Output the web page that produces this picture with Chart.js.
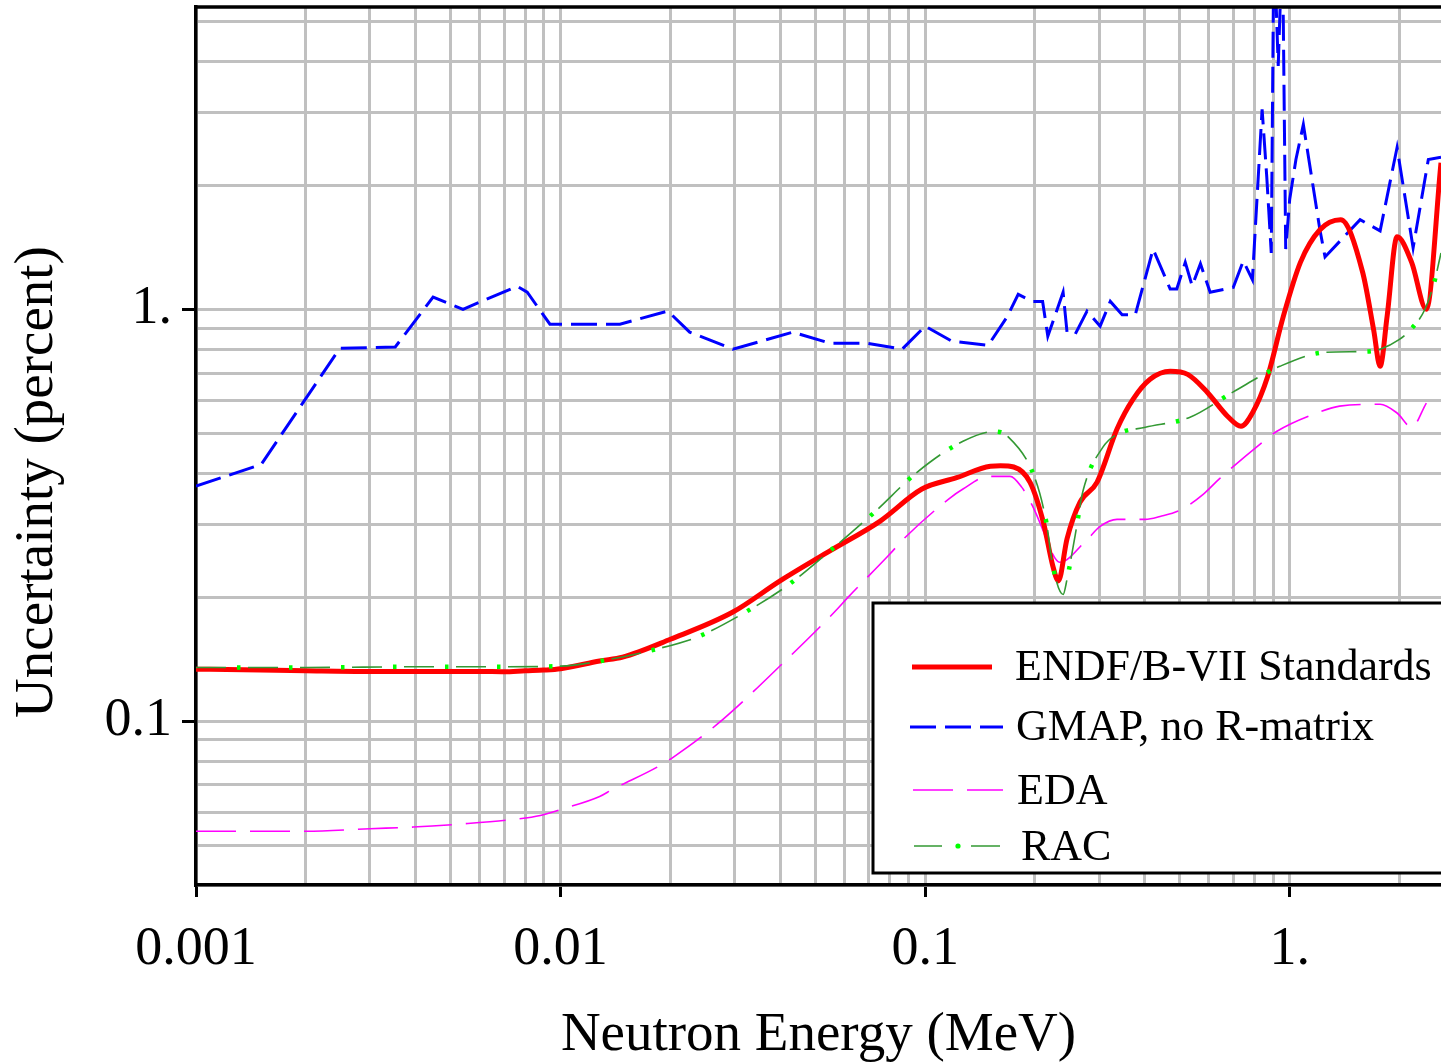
<!DOCTYPE html>
<html>
<head>
<meta charset="utf-8">
<title>Uncertainty vs neutron energy</title>
<script src="https://cdn.jsdelivr.net/npm/chart.js@4.4.1/dist/chart.umd.min.js"></script>
<style>
    html, body { margin: 0; padding: 0; background: #fff; overflow: hidden; }
    #wrap { position: relative; width: 1441px; height: 1063px; }
</style>
</head>
<body>
<div id="wrap"><canvas id="chartUnc"></canvas></div>
<script>
const serif = "'Liberation Serif', 'Times New Roman', serif";

// ENDF/B-VII Standards
const endfE = [0.001, 0.0015, 0.002, 0.003, 0.004, 0.005, 0.006, 0.007, 0.008, 0.009, 0.01, 0.0128, 0.0148, 0.02, 0.0297, 0.04, 0.0548, 0.0753, 0.098, 0.122, 0.151, 0.161, 0.175, 0.194, 0.211, 0.224, 0.232, 0.245, 0.266, 0.296, 0.336, 0.372, 0.414, 0.47, 0.525, 0.594, 0.675, 0.735, 0.79, 0.87, 0.96, 1.07, 1.21, 1.38, 1.585, 1.7, 1.77, 1.85, 1.97, 2.16, 2.37, 2.6];
const endfU = [0.1337, 0.133, 0.1325, 0.132, 0.132, 0.132, 0.132, 0.1318, 0.1325, 0.133, 0.134, 0.14, 0.143, 0.158, 0.184, 0.219, 0.259, 0.306, 0.366, 0.39, 0.416, 0.417, 0.414, 0.38, 0.304, 0.238, 0.219, 0.277, 0.34, 0.38, 0.512, 0.605, 0.676, 0.707, 0.695, 0.629, 0.55, 0.52, 0.56, 0.687, 0.96, 1.30, 1.56, 1.65, 1.23, 0.889, 0.727, 0.962, 1.50, 1.30, 1.0, 2.27];

// GMAP, no R-matrix
const gmapE = [0.001, 0.00151, 0.00248, 0.00352, 0.00447, 0.0054, 0.0076, 0.0081, 0.00935, 0.01455, 0.0197, 0.0226, 0.0297, 0.0434, 0.0548, 0.0693, 0.0865, 0.1, 0.1186, 0.149, 0.168, 0.18, 0.197, 0.21, 0.217, 0.239, 0.245, 0.258, 0.278, 0.302, 0.322, 0.347, 0.377, 0.422, 0.47, 0.49, 0.517, 0.54, 0.569, 0.605, 0.70, 0.746, 0.79, 0.84, 0.865, 0.89, 0.905, 0.93, 0.955, 0.975, 1.0, 1.04, 1.09, 1.21, 1.25, 1.56, 1.77, 1.97, 2.18, 2.4, 2.6];
const gmapU = [0.372, 0.42, 0.804, 0.81, 1.07, 1.0, 1.137, 1.1, 0.92, 0.92, 0.99, 0.88, 0.80, 0.88, 0.827, 0.827, 0.80, 0.91, 0.836, 0.818, 0.96, 1.087, 1.045, 1.045, 0.86, 1.1, 0.88, 0.87, 0.99, 0.91, 1.045, 0.97, 0.97, 1.4, 1.12, 1.12, 1.30, 1.14, 1.29, 1.1, 1.13, 1.31, 1.18, 3.06, 2.1, 1.37, 8, 3.9, 8, 1.4, 1.85, 2.31, 2.81, 1.56, 1.34, 1.65, 1.55, 2.47, 1.41, 2.31, 2.34];

// EDA
const edaE = [0.001, 0.002, 0.003, 0.00394, 0.0054, 0.0074, 0.0088, 0.01, 0.0128, 0.0139, 0.0184, 0.0204, 0.0269, 0.0427, 0.0564, 0.0615, 0.0792, 0.0884, 0.116, 0.127, 0.149, 0.171, 0.184, 0.197, 0.211, 0.22, 0.234, 0.275, 0.302, 0.336, 0.402, 0.441, 0.5, 0.58, 0.64, 0.84, 0.92, 1.22, 1.37, 1.77, 1.97, 2.16, 2.37];
const edaU = [0.054, 0.054, 0.0548, 0.0553, 0.0563, 0.0577, 0.059, 0.061, 0.0656, 0.0683, 0.0773, 0.0818, 0.0983, 0.144, 0.184, 0.2, 0.252, 0.28, 0.346, 0.366, 0.393, 0.393, 0.37, 0.333, 0.289, 0.262, 0.243, 0.273, 0.297, 0.309, 0.309, 0.314, 0.325, 0.356, 0.387, 0.475, 0.505, 0.565, 0.582, 0.588, 0.56, 0.517, 0.592];

// RAC
const racE = [0.001, 0.002, 0.004, 0.007, 0.01, 0.0135, 0.018, 0.0237, 0.0315, 0.0418, 0.0548, 0.073, 0.095, 0.127, 0.155, 0.169, 0.2, 0.215, 0.224, 0.239, 0.245, 0.258, 0.271, 0.307, 0.336, 0.402, 0.533, 0.70, 0.94, 1.25, 1.63, 1.77, 2.0, 2.15, 2.35, 2.49, 2.6];
const racU = [0.135, 0.135, 0.1355, 0.1355, 0.136, 0.141, 0.149, 0.16, 0.182, 0.213, 0.259, 0.323, 0.402, 0.478, 0.505, 0.49, 0.389, 0.304, 0.238, 0.203, 0.221, 0.283, 0.362, 0.462, 0.497, 0.517, 0.547, 0.63, 0.727, 0.786, 0.79, 0.8, 0.845, 0.894, 1.0, 1.16, 1.37];

const seriesNames = ["ENDF/B-VII Standards", "GMAP, no R-matrix", "EDA", "RAC"];

const xTickVals = [0.001, 0.01, 0.1, 1];
const xTickLabels = ["0.001", "0.01", "0.1", "1."];
const yTickVals = [0.1, 1];
const yTickLabels = ["0.1", "1."];

const estilos = {
    endf: { color: "#ff0000", width: 5, dash: [] },
    gmap: { color: "#0000ff", width: 3, dash: [26, 9] },
    eda:  { color: "#ff00ff", width: 1.6, dash: [40, 14] },
    rac:  { color: "#339933", width: 1.6, dash: [30, 22] },
    racPonto: { color: "#00ff00", width: 4.5, dash: [3.5, 48.5], offset: 11 }
};

function pares(xs, ys) {
    return xs.map((x, i) => ({ x, y: ys[i] }));
}

// grade logaritmica 1..9 x 10^n dentro do intervalo
function logTicks(min, max) {
    const out = [];
    for (let e = Math.floor(Math.log10(min)); e <= Math.ceil(Math.log10(max)); e++) {
        for (let m = 1; m < 10; m++) {
            const v = +(m * Math.pow(10, e)).toPrecision(6);
            if (v >= min * 0.9999 && v <= max) out.push({ value: v });
        }
    }
    return out;
}

function rotulo(vals, labels) {
    return v => {
        const i = vals.findIndex(t => Math.abs(t - v) < t * 1e-6);
        return i >= 0 ? labels[i] : "";
    };
}

function corTick(vals) {
    return c => (c.tick && vals.some(t => Math.abs(t - c.tick.value) < t * 1e-6)) ? "#000" : "rgba(0,0,0,0)";
}

const legendaBox = {
    id: "legendaBox",
    afterDatasetsDraw(chart) {
        const { ctx, chartArea } = chart;
        ctx.save();

        // moldura superior
        ctx.strokeStyle = "#000";
        ctx.lineWidth = 3.5;
        ctx.beginPath();
        ctx.moveTo(chartArea.left - 2, chartArea.top);
        ctx.lineTo(chartArea.right, chartArea.top);
        ctx.stroke();

        // caixa
        ctx.fillStyle = "#fff";
        ctx.fillRect(873, 603, 620, 270);
        ctx.lineWidth = 3;
        ctx.strokeRect(873, 603, 620, 270);

        const itens = [
            { st: estilos.endf, x0: 912, x1: 992, y: 667, base: 680, tx: 1015 },
            { st: estilos.gmap, x0: 910, x1: 1003, y: 727, base: 740, tx: 1016 },
            { st: estilos.eda, x0: 913, x1: 1003, y: 790, base: 804, tx: 1017 },
            { st: estilos.rac, x0: 914, x1: 1000, y: 846, base: 860, tx: 1021 }
        ];

        itens.forEach((it, i) => {
            ctx.strokeStyle = it.st.color;
            ctx.lineWidth = it.st.width;
            if (i === 3) {
                ctx.setLineDash([]);
                ctx.beginPath();
                ctx.moveTo(914, it.y); ctx.lineTo(942, it.y);
                ctx.moveTo(971, it.y); ctx.lineTo(1000, it.y);
                ctx.stroke();
                ctx.fillStyle = estilos.racPonto.color;
                ctx.beginPath();
                ctx.arc(958, it.y, 2.6, 0, Math.PI * 2);
                ctx.fill();
            } else {
                ctx.setLineDash(it.st.dash);
                ctx.beginPath();
                ctx.moveTo(it.x0, it.y);
                ctx.lineTo(it.x1, it.y);
                ctx.stroke();
            }
            ctx.setLineDash([]);
            ctx.fillStyle = "#000";
            ctx.font = `44px ${serif}`;
            ctx.textAlign = "left";
            ctx.textBaseline = "alphabetic";
            ctx.fillText(seriesNames[i], it.tx, it.base);
        });
        ctx.restore();
    }
};

const tituloY = {
    id: "tituloY",
    afterDraw(chart) {
        const ctx = chart.ctx;
        ctx.save();
        ctx.translate(38, 482);
        ctx.rotate(-Math.PI / 2);
        ctx.font = `55px ${serif}`;
        ctx.fillStyle = "#000";
        ctx.textAlign = "center";
        ctx.textBaseline = "middle";
        ctx.fillText("Uncertainty (percent)", 0, 0);
        ctx.restore();
    }
};

function linha(label, xs, ys, st, extra) {
    return Object.assign({
        label,
        data: pares(xs, ys),
        borderColor: st.color,
        borderWidth: st.width,
        borderDash: st.dash,
        pointRadius: 0,
        pointHoverRadius: 0,
        fill: false
    }, extra || {});
}

const suave = { cubicInterpolationMode: "monotone" };

const ctx = document.getElementById("chartUnc").getContext("2d");
const chart = new Chart(ctx, {
    type: "line",
    data: {
        datasets: [
            linha("RAC pontos", racE, racU, estilos.racPonto, Object.assign({ borderDashOffset: estilos.racPonto.offset }, suave)),
            linha(seriesNames[3], racE, racU, estilos.rac, suave),
            linha(seriesNames[0], endfE, endfU, estilos.endf, suave),
            linha(seriesNames[1], gmapE, gmapU, estilos.gmap, { tension: 0 }),
            linha(seriesNames[2], edaE, edaU, estilos.eda, suave)
        ]
    },
    options: {
        responsive: true,
        maintainAspectRatio: false,
        animation: false,
        events: [],
        layout: { padding: { top: 7, left: 0, right: 0, bottom: 0 } },
        plugins: {
            legend: { display: false },
            tooltip: { enabled: false }
        },
        scales: {
            x: {
                type: "logarithmic",
                min: 0.001,
                max: 2.6,
                afterBuildTicks: s => { s.ticks = logTicks(s.min, s.max); },
                afterFit: s => { s.height = 178; s.paddingLeft = 0; s.paddingRight = 0; },
                grid: {
                    color: "#c0c0c0",
                    lineWidth: 3,
                    tickLength: 12,
                    tickWidth: 3,
                    tickColor: corTick(xTickVals)
                },
                border: { color: "#000", width: 3.5 },
                ticks: {
                    autoSkip: false,
                    maxRotation: 0,
                    minRotation: 0,
                    padding: 20,
                    color: "#000",
                    font: { family: serif, size: 54 },
                    callback: rotulo(xTickVals, xTickLabels)
                },
                title: {
                    display: true,
                    text: "Neutron Energy (MeV)",
                    color: "#000",
                    font: { family: serif, size: 55, lineHeight: 1 },
                    padding: { top: 0, bottom: 0 }
                }
            },
            y: {
                type: "logarithmic",
                min: 0.04,
                max: 5.42,
                afterBuildTicks: s => { s.ticks = logTicks(s.min, s.max); },
                afterFit: s => { s.width = 196; s.paddingTop = 0; s.paddingBottom = 0; },
                grid: {
                    color: "#c0c0c0",
                    lineWidth: 3,
                    tickLength: 14,
                    tickWidth: 3,
                    tickColor: corTick(yTickVals)
                },
                border: { color: "#000", width: 3.5 },
                ticks: {
                    autoSkip: false,
                    padding: 10,
                    color: "#000",
                    font: { family: serif, size: 54 },
                    callback: rotulo(yTickVals, yTickLabels)
                }
            }
        }
    },
    plugins: [legendaBox, tituloY]
});
</script>
</body>
</html>
